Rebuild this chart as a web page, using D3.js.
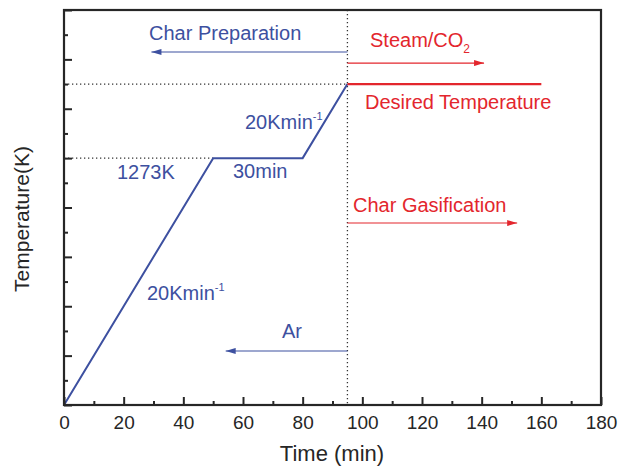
<!DOCTYPE html>
<html>
<head>
<meta charset="utf-8">
<script src="https://cdn.jsdelivr.net/npm/d3@7"></script>
<style>
  html, body { margin: 0; padding: 0; background: #fff; }
  svg { display: block; font-family: Arial, "Liberation Sans", sans-serif; }
</style>
</head>
<body>
<div id="chart"></div>
<script>
// Heating programme: ramp, hold at 1273 K, ramp to the gasification temperature
const prepTime = [0, 50, 80, 95];
const prepTemp = [273, 1273, 1273, 1573];
// Isothermal gasification stage
const gasTime = [95, 160];
const gasTemp = [1573, 1573];

// Axis ticks
const xMajorTicks = [0, 20, 40, 60, 80, 100, 120, 140, 160, 180];
const xMinorTicks = [10, 30, 50, 70, 90, 110, 130, 150, 170];
const yMajorTicks = [273, 473, 673, 873, 1073, 1273, 1473, 1673, 1873];
const yMinorTicks = [373, 573, 773, 973, 1173, 1373, 1573, 1773];

// Stage arrows: label, y temperature, start time, end time
const arrowLabels = ["Char Preparation", "Steam/CO", "Char Gasification", "Ar"];
const arrowTemp = [1703, 1658, 1010, 492];
const arrowFrom = [95, 95, 95, 95];
const arrowTo = [29.3, 140.8, 151.9, 54.2];

const W = 618, H = 467;
const margin = { left: 64, right: 17, top: 10, bottom: 62 };
const blue = "#3d50a0", red = "#e3262d", ink = "#262626";

const svg = d3.select("#chart").append("svg").attr("width", W).attr("height", H);

const x = d3.scaleLinear().domain([0, 180]).range([margin.left, W - margin.right]);
const y = d3.scaleLinear().domain([273, 1873]).range([H - margin.bottom, margin.top]);

const defs = svg.append("defs");
[["head-blue", blue], ["head-red", red]].forEach(([id, c]) => {
  defs.append("marker").attr("id", id)
    .attr("viewBox", "0 0 10 6").attr("refX", 10).attr("refY", 3)
    .attr("markerUnits", "userSpaceOnUse")
    .attr("markerWidth", 12).attr("markerHeight", 6).attr("orient", "auto")
    .append("path").attr("d", "M0,0 L10,3 L0,6 Z").attr("fill", c);
});

// Reference dotted lines
const dotted = svg.append("g").attr("stroke", "#333").attr("stroke-width", 1.3)
  .attr("stroke-dasharray", "1.3,2.7").attr("fill", "none");
dotted.append("line").attr("x1", x(0)).attr("x2", x(prepTime[1]))
  .attr("y1", y(prepTemp[1])).attr("y2", y(prepTemp[1]));
dotted.append("line").attr("x1", x(0)).attr("x2", x(prepTime[3]))
  .attr("y1", y(prepTemp[3])).attr("y2", y(prepTemp[3]));
dotted.append("line").attr("x1", x(prepTime[3])).attr("x2", x(prepTime[3]))
  .attr("y1", y(1873)).attr("y2", y(273));

// Temperature programme
const line = d3.line().x(d => x(d[0])).y(d => y(d[1]));
svg.append("path").datum(d3.zip(prepTime, prepTemp))
  .attr("d", line).attr("fill", "none").attr("stroke", blue).attr("stroke-width", 2);
svg.append("path").datum(d3.zip(gasTime, gasTemp))
  .attr("d", line).attr("fill", "none").attr("stroke", red).attr("stroke-width", 2.2);

// Stage arrows
const arrowColor = [blue, red, red, blue];
arrowLabels.forEach((lab, i) => {
  svg.append("line")
    .attr("x1", x(arrowFrom[i])).attr("x2", x(arrowTo[i]))
    .attr("y1", y(arrowTemp[i])).attr("y2", y(arrowTemp[i]))
    .attr("stroke", arrowColor[i]).attr("stroke-width", 1.1)
    .attr("marker-end", `url(#${arrowColor[i] === blue ? "head-blue" : "head-red"})`);
});

// Annotations
const fs = 20;
function note(txt, tx, ty, color) {
  return svg.append("text").attr("x", tx).attr("y", ty).attr("fill", color)
    .attr("font-size", fs).text(txt);
}
note("Char Preparation", 149, 40, blue);
const steam = note("Steam/CO", 370, 47, red);
steam.append("tspan").attr("font-size", 12).attr("dy", 6).text("2");
note("Desired Temperature", 365, 109, red);
note("Char Gasification", 353, 212, red);
note("Ar", 282, 338, blue);
note("1273K", 117, 179, blue);
note("30min", 233, 178, blue);
[[245, 129], [147, 300]].forEach(([tx, ty]) => {
  const t = note("20Kmin", tx, ty, blue);
  t.append("tspan").attr("font-size", 11).attr("dy", -9).text("-1");
});

// Axes with inward ticks
const gx = svg.append("g").attr("transform", `translate(0,${y(273)})`)
  .call(d3.axisBottom(x).tickValues(xMajorTicks).tickSize(-8).tickPadding(11)
    .tickFormat(d3.format("d")));
svg.append("g").attr("transform", `translate(0,${y(273)})`)
  .call(d3.axisBottom(x).tickValues(xMinorTicks).tickSize(-4).tickFormat(""));
svg.append("g").attr("transform", `translate(${x(0)},0)`)
  .call(d3.axisLeft(y).tickValues(yMajorTicks).tickSize(-8).tickFormat(""));
svg.append("g").attr("transform", `translate(${x(0)},0)`)
  .call(d3.axisLeft(y).tickValues(yMinorTicks).tickSize(-4).tickFormat(""));
svg.selectAll(".domain").remove();
svg.selectAll(".tick line").attr("stroke", ink).attr("stroke-width", 2);
gx.selectAll(".tick text").attr("font-size", 19).attr("fill", ink)
  .attr("font-family", "Arial, 'Liberation Sans', sans-serif");

// Frame
svg.append("rect").attr("x", x(0)).attr("y", y(1873))
  .attr("width", x(180) - x(0)).attr("height", y(273) - y(1873))
  .attr("fill", "none").attr("stroke", ink).attr("stroke-width", 2.2);

// Axis titles
svg.append("text").attr("x", 332).attr("y", 461)
  .attr("text-anchor", "middle").attr("font-size", 22).attr("fill", ink)
  .text("Time (min)");
svg.append("text").attr("transform", `translate(29,219) rotate(-90)`)
  .attr("text-anchor", "middle").attr("font-size", 21).attr("fill", ink)
  .text("Temperature(K)");
</script>
</body>
</html>
